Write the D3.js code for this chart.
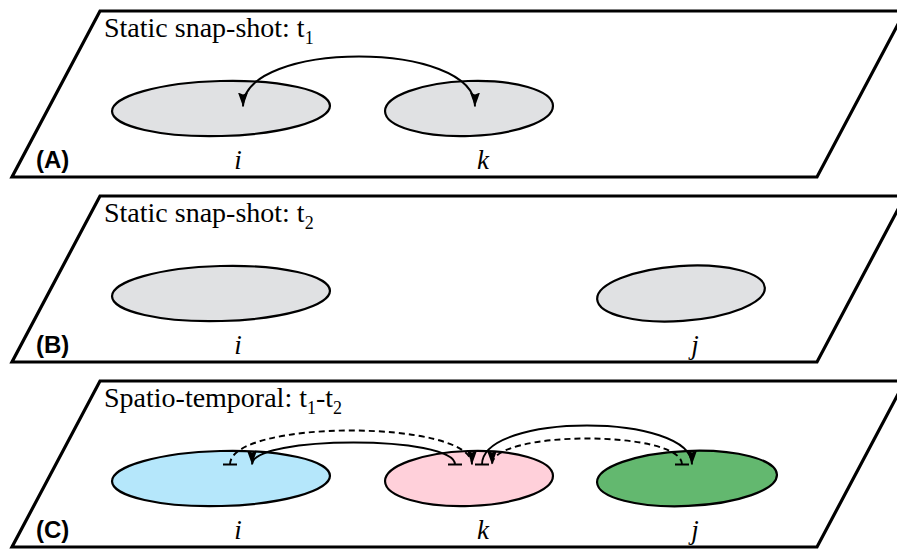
<!doctype html>
<html>
<head>
    <style>
        body { margin: 0; background: #fff; }
        .plane { fill: #fff; stroke: #000; stroke-width: 3.2; stroke-linejoin: miter; }
        .node { stroke: #000; stroke-width: 2.2; }
        .title { font-family: "Liberation Serif", "Times New Roman", serif; font-size: 28px; }
        .tag { font-family: "Liberation Sans", Arial, sans-serif; font-size: 24px; font-weight: bold; }
        .label { font-family: "Liberation Serif", "Times New Roman", serif; font-size: 27px; font-style: italic; }
        .link { fill: none; stroke: #000; stroke-width: 1.9; }
        .dashed { stroke-dasharray: 6,4; }
    </style>
    <script src="https://d3js.org/d3.v7.min.js"></script>
</head>
<body>
<svg width="897" height="550"></svg>
<script>

    // panels, their titles ([text, isSubscript]) and the nodes drawn in each
    var panels = ["A", "B", "C"];
    var titles = [
        [["Static snap-shot: t", 0], ["1", 1]],
        [["Static snap-shot: t", 0], ["2", 1]],
        [["Spatio-temporal: t", 0], ["1", 1], ["-t", 0], ["2", 1]]
    ];
    var panelNodes = [["i", "k"], ["i", "j"], ["i", "k", "j"]];
    var nodeNames = ["i", "k", "j"];

    // links between nodes
    var links = [
        {panel: "A", from: "k", to: "i", kind: "solid", start: "arrow"},
        {panel: "C", from: "k", to: "i", kind: "solid", start: "tee"},
        {panel: "C", from: "i", to: "k", kind: "dashed", start: "tee"},
        {panel: "C", from: "k", to: "j", kind: "solid", start: "tee"},
        {panel: "C", from: "j", to: "k", kind: "dashed", start: "tee"}
    ];

    var svg = d3.select("svg");

    // layout
    var panelTop = d3.scalePoint().domain(panels).range([11, 381]),
        planeH = 166, planeSkew = 88;
    var cx = d3.scaleOrdinal()
        .domain(["Ai", "Ak", "Bi", "Bj", "Ci", "Ck", "Cj"])
        .range([221, 469, 221, 681, 221, 469, 687]);
    var rx = d3.scaleOrdinal()
        .domain(["Ai", "Ak", "Bi", "Bj", "Ci", "Ck", "Cj"])
        .range([109, 84, 109, 84, 109, 84, 90]);
    var tilt = d3.scaleOrdinal()
        .domain(["Ai", "Ak", "Bi", "Bj", "Ci", "Ck", "Cj"])
        .range([-1.5, -2, -1.5, -4, -1.5, -2, -2.5]);
    var labelX = d3.scaleOrdinal().domain(nodeNames).range([238, 483, 695]);
    var fillC = d3.scaleOrdinal().domain(nodeNames).range(["#b5e7fb", "#ffd0da", "#63b86f"]);
    // link geometry in link order: [offset at from, offset at to, rise, depth]
    var linkGeom = [[6, 22, 50, -2], [-14, 31, 22, -14], [9, 3, 34, -14], [13, 5, 39, -14], [-5, 23, 26, -14]];

    var defs = svg.append("defs");
    defs.append("marker")
        .attr("id", "arrow")
        .attr("viewBox", "0 -6 14 12")
        .attr("markerUnits", "userSpaceOnUse")
        .attr("markerWidth", 14).attr("markerHeight", 12)
        .attr("refX", 14).attr("refY", 0)
        .attr("orient", "auto-start-reverse")
        .append("path").attr("d", "M0,-5L14,0L0,5L2,0Z");
    defs.append("marker")
        .attr("id", "tee")
        .attr("viewBox", "-1.5 -8 3 16")
        .attr("markerUnits", "userSpaceOnUse")
        .attr("markerWidth", 3).attr("markerHeight", 16)
        .attr("refX", 0).attr("refY", 0)
        .attr("orient", "auto")
        .append("rect").attr("x", -1).attr("y", -7).attr("width", 2).attr("height", 14);

    var g = svg.selectAll(".panel")
        .data(panels)
        .enter().append("g")
        .attr("class", "panel")
        .attr("transform", function(d) { return "translate(0," + panelTop(d) + ")"; });

    g.append("path")
     .attr("class", "plane")
     .attr("d", "M" + (12 + planeSkew) + ",0L" + (817 + planeSkew) + ",0L817," + planeH + "L12," + planeH + "Z");

    var title = g.append("text")
     .attr("class", "title")
     .attr("x", 104)
     .attr("y", 26);
    title.selectAll("tspan")
     .data(function(d, i) { return titles[i]; })
     .enter().append("tspan")
     .attr("font-size", function(d) { return d[1] ? "18px" : null; })
     .attr("dy", function(d, i, n) {
         var prev = i > 0 ? d3.select(n[i - 1]).datum()[1] : 0;
         return (d[1] - prev) * 7;
     })
     .text(function(d) { return d[0]; });

    g.append("text")
     .attr("class", "tag")
     .attr("x", 36)
     .attr("y", 157)
     .text(function(d) { return "(" + d + ")"; });

    var nodes = g.selectAll(".node")
        .data(function(d, i) { return panelNodes[i].map(function(n) { return {panel: d, name: n}; }); })
        .enter();

    nodes.append("ellipse")
     .attr("class", "node")
     .attr("cx", 0).attr("cy", 0)
     .attr("rx", function(d) { return rx(d.panel + d.name); })
     .attr("ry", 27.5)
     .attr("transform", function(d) {
         return "translate(" + cx(d.panel + d.name) + ",97.5) rotate(" + tilt(d.panel + d.name) + ")";
     })
     .attr("fill", function(d) { return d.panel === "C" ? fillC(d.name) : "#e0e1e3"; });

    nodes.append("text")
     .attr("class", "label")
     .attr("text-anchor", "middle")
     .attr("x", function(d) { return labelX(d.name); })
     .attr("y", 158)
     .text(function(d) { return d.name; });

    g.selectAll(".link")
     .data(function(p) { return links.filter(function(l) { return l.panel === p; }); })
     .enter().append("path")
     .attr("class", function(d) { return "link " + d.kind; })
     .attr("d", function(d) {
         var geo = linkGeom[links.indexOf(d)];
         var x0 = cx(d.panel + d.from) + geo[0],
             x1 = cx(d.panel + d.to) + geo[1],
             y = 97.5 + geo[3],
             yc = y - geo[2] / 0.75;
         return "M" + x0 + "," + y + "C" + x0 + "," + yc + " " + x1 + "," + yc + " " + x1 + "," + y;
     })
     .attr("marker-start", function(d) { return "url(#" + d.start + ")"; })
     .attr("marker-end", "url(#arrow)");

</script>
</body>
</html>
